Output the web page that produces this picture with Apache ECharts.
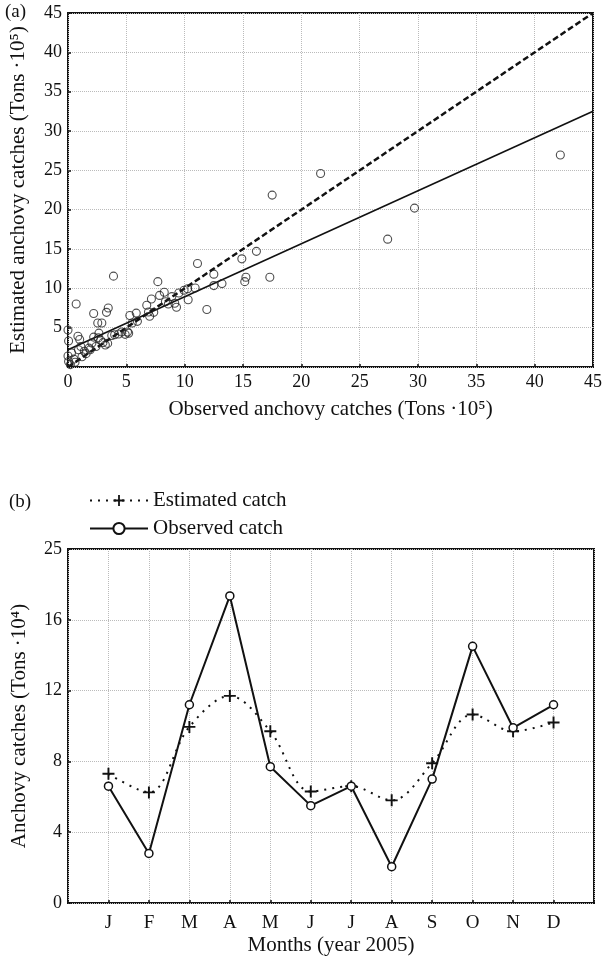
<!DOCTYPE html>
<html>
<head>
<meta charset="utf-8">
<script src="https://cdn.jsdelivr.net/npm/echarts@6/dist/echarts.min.js"></script>
<style>
  html, body { margin: 0; padding: 0; background: #fff; }
  #chart { width: 605px; height: 960px; }
</style>
</head>
<body>
<div id="chart"></div>
<script>
// (a) observed vs estimated catches, Tons x 10^5
var scatterObserved = [0, 0.05, 0, 0.05, 0.2, 0.5, 0.7, 0.85, 1.0, 0.9, 1.1, 1.4, 1.55, 1.8, 2.05, 2.2, 2.2, 2.4, 2.55, 2.9,
  2.65, 2.8, 3.2, 3.3, 3.45, 3.9, 3.75, 4.0, 4.35, 4.6, 4.9, 5.1, 5.3, 5.2, 5.5, 5.85, 5.95, 6.75, 7.0, 7.15,
  7.35, 7.7, 7.85, 8.25, 8.35, 8.9, 9.15, 9.3, 9.5, 9.95, 10.25, 10.3, 10.9, 11.1, 11.9, 12.5, 12.5, 13.2, 14.9, 15.25,
  15.15, 16.15, 17.3, 17.5, 21.65, 27.4, 29.7, 42.2, 0.3, 1.2, 1.9, 2.6, 3.0, 0.6, 6.9, 8.6, 3.4]
var scatterEstimated = [4.7, 3.3, 1.4, 0.7, 0.3, 1.0, 8.0, 3.9, 3.5, 2.2, 2.6, 2.0, 1.7, 2.4, 3.05, 6.8, 3.8, 2.6, 5.6, 5.6,
  4.3, 3.4, 2.8, 6.95, 7.5, 11.55, 4.0, 4.1, 4.2, 4.45, 4.15, 4.45, 6.55, 4.3, 5.6, 6.85, 5.8, 7.85, 6.45, 8.65,
  6.95, 10.85, 9.1, 9.5, 8.3, 8.95, 8.1, 7.6, 9.4, 9.75, 9.95, 8.55, 10.05, 13.15, 7.3, 11.8, 10.35, 10.6, 13.75, 11.4,
  10.85, 14.7, 11.4, 21.85, 24.6, 16.25, 20.2, 26.95, 1.8, 1.3, 2.2, 3.7, 3.1, 0.6, 7.0, 8.0, 3.0]
var identityX = [0, 45]
var identityY = [0, 45]
var fitX = [0, 45]
var fitY = [2.2, 32.5]

// (b) monthly catches 2005, Tons x 10^4
var months = ['J', 'F', 'M', 'A', 'M', 'J', 'J', 'A', 'S', 'O', 'N', 'D']
var observedCatch = [6.6, 2.8, 11.2, 17.35, 7.7, 5.5, 6.6, 2.05, 7.0, 14.5, 9.9, 11.2]
var estimatedCatch = [7.3, 6.25, 9.95, 11.7, 9.7, 6.3, 6.6, 5.8, 7.9, 10.65, 9.7, 10.2]

var font = 'Liberation Serif'
var ink = '#111'

function pairs(xs, ys) {
  return xs.map(function (x, i) { return [x, ys[i]] })
}

var plus = 'path://M4.2,0H5.8V4.2H10V5.8H5.8V10H4.2V5.8H0V4.2H4.2Z'

var splitLine = { show: true, lineStyle: { color: '#bbb', type: 'dotted', width: 1 } }
var tick = { show: true, inside: true, length: 3, lineStyle: { color: ink, width: 1.5 } }

var chart = echarts.init(document.getElementById('chart'))
chart.setOption({
  animation: false,
  backgroundColor: '#fff',
  textStyle: { fontFamily: font, color: ink },
  graphic: [
    { type: 'text', left: 5, top: 3, style: { text: '(a)', fontFamily: font, fontSize: 19, fill: ink } },
    { type: 'text', left: 9, top: 493, style: { text: '(b)', fontFamily: font, fontSize: 19, fill: ink } }
  ],
  legend: {
    data: ['Estimated catch', 'Observed catch'],
    orient: 'vertical',
    left: 84,
    top: 485,
    itemWidth: 58,
    itemHeight: 14,
    itemGap: 7,
    textStyle: { fontFamily: font, fontSize: 21, color: ink }
  },
  grid: [
    { left: 68, right: 12, top: 13, height: 354, show: true, borderColor: ink, borderWidth: 2, backgroundColor: 'transparent' },
    { left: 68, right: 11, top: 549, height: 354, show: true, borderColor: ink, borderWidth: 2, backgroundColor: 'transparent' }
  ],
  xAxis: [
    {
      gridIndex: 0, type: 'value', min: 0, max: 45, interval: 5,
      name: 'Observed anchovy catches (Tons ·10⁵)', nameLocation: 'middle', nameGap: 32,
      nameTextStyle: { fontFamily: font, fontSize: 21, color: ink },
      axisLine: { show: false }, axisTick: tick, splitLine: splitLine,
      axisLabel: { fontFamily: font, fontSize: 18, color: ink, margin: 6 }
    },
    {
      gridIndex: 1, type: 'value', min: 0, max: 13, interval: 1,
      name: 'Months (year 2005)', nameLocation: 'middle', nameGap: 32,
      nameTextStyle: { fontFamily: font, fontSize: 21, color: ink },
      axisLine: { show: false }, axisTick: tick, splitLine: splitLine,
      axisLabel: {
        fontFamily: font, fontSize: 19, color: ink, margin: 11,
        formatter: function (v) { return months[v - 1] || '' }
      }
    }
  ],
  yAxis: [
    {
      gridIndex: 0, type: 'value', min: 0, max: 45, interval: 5,
      name: 'Estimated anchovy catches (Tons ·10⁵)', nameLocation: 'middle', nameGap: 39,
      nameTextStyle: { fontFamily: font, fontSize: 21, color: ink },
      axisLine: { show: false }, axisTick: tick, splitLine: splitLine,
      axisLabel: { fontFamily: font, fontSize: 18, color: ink, margin: 6, showMinLabel: false }
    },
    {
      gridIndex: 1, type: 'value', min: 0, max: 20, interval: 4,
      name: 'Anchovy catches (Tons ·10⁴)', nameLocation: 'middle', nameGap: 38,
      nameTextStyle: { fontFamily: font, fontSize: 21, color: ink },
      axisLine: { show: false }, axisTick: tick, splitLine: splitLine,
      axisLabel: {
        fontFamily: font, fontSize: 18, color: ink, margin: 6,
        formatter: function (v) { return v === 20 ? '25' : String(v) }
      }
    }
  ],
  series: [
    {
      name: 'points', type: 'scatter', xAxisIndex: 0, yAxisIndex: 0,
      data: pairs(scatterObserved, scatterEstimated),
      symbol: 'circle', symbolSize: 8,
      itemStyle: { color: 'rgba(255,255,255,0)', borderColor: '#222', borderWidth: 1.1 },
      z: 3
    },
    {
      name: 'identity', type: 'line', xAxisIndex: 0, yAxisIndex: 0,
      data: pairs(identityX, identityY), symbol: 'none',
      lineStyle: { color: ink, width: 2.5, type: [6, 3] }, z: 2
    },
    {
      name: 'fit', type: 'line', xAxisIndex: 0, yAxisIndex: 0,
      data: pairs(fitX, fitY), symbol: 'none',
      lineStyle: { color: ink, width: 1.6 }, z: 2
    },
    {
      name: 'Estimated catch', type: 'line', xAxisIndex: 1, yAxisIndex: 1,
      data: estimatedCatch.map(function (v, i) { return [i + 1, v] }),
      smooth: 0.35,
      symbol: plus, symbolSize: 12,
      itemStyle: { color: ink },
      lineStyle: { color: ink, width: 2, type: [2, 6] }
    },
    {
      name: 'Observed catch', type: 'line', xAxisIndex: 1, yAxisIndex: 1,
      data: observedCatch.map(function (v, i) { return [i + 1, v] }),
      symbol: 'circle', symbolSize: 8,
      itemStyle: { color: '#fff', borderColor: ink, borderWidth: 1.5 },
      lineStyle: { color: ink, width: 2 }, z: 3
    }
  ]
})
</script>
</body>
</html>
